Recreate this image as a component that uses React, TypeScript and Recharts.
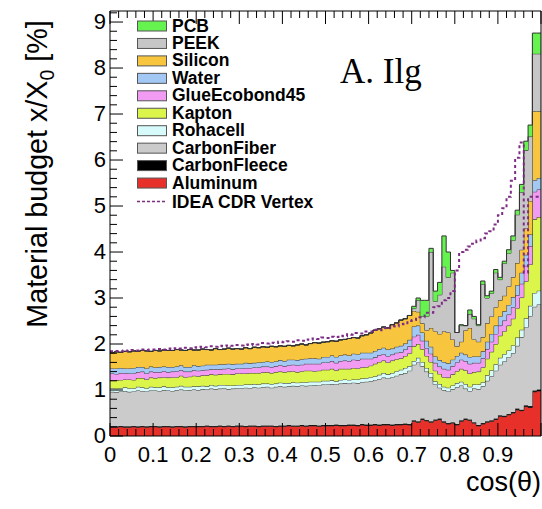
import React from 'react';
import { ComposedChart, Area, Line, XAxis, YAxis } from 'recharts';

// material budget per cos(theta) bin (bin width 0.01, from 0 to 1), in % of X0
const aluminum = [
  0.19, 0.19, 0.2, 0.19, 0.19, 0.2, 0.19, 0.2, 0.19, 0.2,
  0.2, 0.19, 0.2, 0.2, 0.19, 0.2, 0.2, 0.19, 0.2, 0.2,
  0.2, 0.2, 0.21, 0.2, 0.2, 0.21, 0.2, 0.21, 0.2, 0.21,
  0.21, 0.2, 0.21, 0.21, 0.2, 0.21, 0.21, 0.21, 0.2, 0.21,
  0.21, 0.22, 0.21, 0.21, 0.22, 0.21, 0.22, 0.22, 0.21, 0.22,
  0.22, 0.22, 0.23, 0.22, 0.22, 0.23, 0.23, 0.22, 0.24, 0.23,
  0.23, 0.24, 0.23, 0.24, 0.24, 0.23, 0.24, 0.24, 0.25, 0.24,
  0.32, 0.3, 0.36, 0.33, 0.3, 0.34, 0.36, 0.3, 0.26, 0.28,
  0.24, 0.32, 0.36, 0.34, 0.28, 0.22, 0.26, 0.3, 0.32, 0.36,
  0.43, 0.42, 0.46, 0.5, 0.57, 0.55, 0.64, 0.62, 0.96, 0.98,
];
const carbonFleece = [
  0.02, 0.02, 0.02, 0.02, 0.02, 0.02, 0.02, 0.02, 0.02, 0.02,
  0.02, 0.02, 0.02, 0.02, 0.02, 0.02, 0.02, 0.02, 0.02, 0.02,
  0.02, 0.02, 0.02, 0.02, 0.02, 0.02, 0.02, 0.02, 0.02, 0.02,
  0.02, 0.02, 0.02, 0.02, 0.02, 0.02, 0.02, 0.02, 0.02, 0.02,
  0.02, 0.02, 0.02, 0.02, 0.02, 0.02, 0.02, 0.02, 0.02, 0.02,
  0.02, 0.02, 0.02, 0.02, 0.02, 0.02, 0.02, 0.02, 0.02, 0.02,
  0.02, 0.02, 0.02, 0.02, 0.02, 0.02, 0.02, 0.02, 0.02, 0.02,
  0.02, 0.02, 0.02, 0.02, 0.02, 0.02, 0.02, 0.02, 0.02, 0.02,
  0.02, 0.02, 0.02, 0.02, 0.02, 0.02, 0.02, 0.02, 0.02, 0.02,
  0.02, 0.02, 0.02, 0.02, 0.03, 0.02, 0.03, 0.03, 0.03, 0.03,
];
const carbonFiber = [
  0.75, 0.74, 0.75, 0.77, 0.75, 0.75, 0.78, 0.76, 0.76, 0.77,
  0.77, 0.77, 0.78, 0.77, 0.77, 0.78, 0.79, 0.78, 0.78, 0.79,
  0.78, 0.8, 0.78, 0.81, 0.8, 0.8, 0.82, 0.79, 0.81, 0.81,
  0.81, 0.83, 0.81, 0.83, 0.83, 0.83, 0.84, 0.82, 0.85, 0.85,
  0.84, 0.84, 0.86, 0.85, 0.86, 0.86, 0.86, 0.87, 0.87, 0.88,
  0.88, 0.89, 0.87, 0.9, 0.91, 0.89, 0.91, 0.91, 0.91, 0.93,
  0.94, 0.96, 0.99, 1.01, 0.99, 1.03, 1.05, 1.08, 1.1, 1.16,
  1.21, 1.28, 1.14, 1.05, 0.96, 0.76, 0.67, 0.68, 0.69, 0.72,
  0.8, 0.76, 0.65, 0.62, 0.74, 0.78, 0.8, 0.88, 0.96, 1.04,
  1.1, 1.18, 1.24, 1.28, 1.36, 1.58, 1.69, 1.96, 1.82, 1.85,
];
const rohacell = [
  0.08, 0.08, 0.07, 0.08, 0.08, 0.07, 0.08, 0.08, 0.07, 0.08,
  0.07, 0.08, 0.08, 0.07, 0.08, 0.07, 0.08, 0.08, 0.07, 0.07,
  0.08, 0.07, 0.07, 0.08, 0.07, 0.08, 0.07, 0.08, 0.07, 0.07,
  0.07, 0.07, 0.08, 0.07, 0.07, 0.08, 0.07, 0.08, 0.07, 0.08,
  0.08, 0.07, 0.08, 0.08, 0.07, 0.08, 0.08, 0.07, 0.08, 0.08,
  0.08, 0.08, 0.07, 0.08, 0.08, 0.08, 0.07, 0.08, 0.08, 0.08,
  0.09, 0.08, 0.09, 0.1, 0.09, 0.09, 0.1, 0.1, 0.11, 0.1,
  0.08, 0.1, 0.09, 0.08, 0.09, 0.07, 0.08, 0.07, 0.08, 0.08,
  0.09, 0.08, 0.1, 0.09, 0.08, 0.1, 0.09, 0.12, 0.13, 0.14,
  0.15, 0.16, 0.14, 0.17, 0.18, 0.16, 0.2, 0.22, 0.3, 0.3,
];
const kapton = [
  0.17, 0.18, 0.18, 0.17, 0.19, 0.18, 0.19, 0.2, 0.19, 0.2,
  0.2, 0.21, 0.2, 0.21, 0.22, 0.21, 0.22, 0.21, 0.22, 0.23,
  0.22, 0.23, 0.24, 0.23, 0.24, 0.23, 0.24, 0.25, 0.24, 0.25,
  0.25, 0.24, 0.25, 0.24, 0.25, 0.24, 0.25, 0.24, 0.25, 0.24,
  0.24, 0.25, 0.24, 0.23, 0.24, 0.25, 0.24, 0.23, 0.24, 0.24,
  0.24, 0.25, 0.24, 0.24, 0.23, 0.24, 0.25, 0.24, 0.24, 0.24,
  0.25, 0.27, 0.28, 0.27, 0.26, 0.27, 0.26, 0.25, 0.26, 0.28,
  0.32, 0.3, 0.28, 0.26, 0.24, 0.23, 0.22, 0.21, 0.22, 0.24,
  0.26, 0.28, 0.3, 0.29, 0.27, 0.28, 0.32, 0.36, 0.4, 0.44,
  0.48, 0.5, 0.54, 0.58, 0.64, 0.7, 0.8, 0.9, 1.6, 1.6,
];
const glueEcobond45 = [
  0.15, 0.14, 0.15, 0.14, 0.13, 0.14, 0.13, 0.14, 0.13, 0.13,
  0.13, 0.12, 0.13, 0.12, 0.12, 0.13, 0.12, 0.12, 0.11, 0.12,
  0.12, 0.11, 0.12, 0.11, 0.12, 0.11, 0.11, 0.12, 0.11, 0.11,
  0.11, 0.12, 0.11, 0.12, 0.12, 0.13, 0.12, 0.13, 0.13, 0.14,
  0.13, 0.14, 0.14, 0.15, 0.14, 0.15, 0.15, 0.16, 0.15, 0.16,
  0.16, 0.17, 0.16, 0.17, 0.18, 0.17, 0.18, 0.18, 0.19, 0.18,
  0.15, 0.14, 0.15, 0.14, 0.14, 0.13, 0.14, 0.13, 0.14, 0.15,
  0.21, 0.2, 0.18, 0.17, 0.18, 0.17, 0.16, 0.18, 0.17, 0.18,
  0.19, 0.2, 0.2, 0.21, 0.2, 0.19, 0.2, 0.21, 0.22, 0.22,
  0.22, 0.23, 0.24, 0.25, 0.28, 0.3, 0.34, 0.4, 0.6, 0.6,
];
const water = [
  0.11, 0.12, 0.11, 0.1, 0.11, 0.12, 0.11, 0.1, 0.11, 0.11,
  0.1, 0.11, 0.1, 0.11, 0.1, 0.1, 0.11, 0.1, 0.1, 0.11,
  0.1, 0.1, 0.11, 0.1, 0.1, 0.11, 0.1, 0.1, 0.11, 0.1,
  0.1, 0.11, 0.1, 0.1, 0.11, 0.1, 0.11, 0.11, 0.1, 0.11,
  0.11, 0.12, 0.11, 0.11, 0.12, 0.11, 0.12, 0.12, 0.11, 0.12,
  0.12, 0.12, 0.13, 0.12, 0.13, 0.12, 0.13, 0.13, 0.13, 0.13,
  0.13, 0.14, 0.13, 0.14, 0.14, 0.13, 0.13, 0.14, 0.13, 0.14,
  0.22, 0.2, 0.18, 0.16, 0.15, 0.14, 0.14, 0.15, 0.14, 0.14,
  0.14, 0.15, 0.14, 0.15, 0.14, 0.14, 0.15, 0.16, 0.17, 0.18,
  0.2, 0.2, 0.21, 0.22, 0.22, 0.24, 0.24, 0.25, 0.25, 0.25,
];
const silicon = [
  0.34, 0.36, 0.34, 0.37, 0.36, 0.37, 0.34, 0.36, 0.38, 0.33,
  0.37, 0.35, 0.36, 0.36, 0.36, 0.37, 0.33, 0.36, 0.38, 0.33,
  0.35, 0.36, 0.33, 0.32, 0.35, 0.32, 0.33, 0.34, 0.33, 0.33,
  0.32, 0.33, 0.32, 0.34, 0.32, 0.33, 0.31, 0.34, 0.32, 0.31,
  0.32, 0.31, 0.3, 0.33, 0.33, 0.3, 0.32, 0.34, 0.34, 0.32,
  0.33, 0.32, 0.34, 0.34, 0.33, 0.37, 0.35, 0.35, 0.37, 0.39,
  0.43, 0.45, 0.44, 0.45, 0.47, 0.52, 0.52, 0.56, 0.54, 0.53,
  0.34, 0.3, 0.2, 0.23, 0.41, 0.55, 0.57, 0.67, 0.67, 0.44,
  0.21, 0.24, 0.53, 0.63, 0.37, 0.32, 0.31, 0.4, 0.38, 0.4,
  0.35, 0.34, 0.4, 0.43, 0.48, 0.5, 0.57, 0.73, 1.5, 1.45,
];
const peek = [
  0, 0, 0, 0, 0, 0, 0, 0, 0, 0,
  0, 0, 0, 0, 0, 0, 0, 0, 0, 0,
  0, 0, 0, 0, 0, 0, 0, 0, 0, 0,
  0, 0, 0, 0, 0, 0, 0, 0, 0, 0,
  0, 0, 0, 0, 0, 0, 0, 0, 0, 0,
  0, 0, 0, 0, 0, 0, 0, 0, 0, 0,
  0, 0, 0, 0, 0, 0, 0, 0, 0, 0,
  0.05, 0.25, 0.15, 0.3, 1.65, 0.65, 0.85, 1.4, 1.2, 1.45,
  0.3, 0.35, 0.1, 0.3, 0.45, 0.35, 1.15, 0.55, 0.5, 0.75,
  0.45, 0.7, 0.72, 0.8, 1.05, 1.25, 1.7, 1.4, 1.25, 1.25,
];
const pcb = [
  0, 0, 0, 0, 0, 0, 0, 0, 0, 0,
  0, 0, 0, 0, 0, 0, 0, 0, 0, 0,
  0, 0, 0, 0, 0, 0, 0, 0, 0, 0,
  0, 0, 0, 0, 0, 0, 0, 0, 0, 0,
  0, 0, 0, 0, 0, 0, 0, 0, 0, 0,
  0, 0, 0, 0, 0, 0, 0, 0, 0, 0,
  0, 0, 0, 0, 0, 0, 0, 0, 0, 0,
  0.05, 0.05, 0.35, 0.35, 0.08, 0.22, 0.27, 0.67, 0.55, 0.05,
  0, 0.02, 0, 0.09, 0.05, 0.02, 0.07, 0.05, 0.05, 0.07,
  0.05, 0.05, 0.08, 0.1, 0.1, 0.17, 0.2, 0.25, 0.45, 0.45,
];
// total of the IDEA CDR vertex detector, same binning
const ideaVertex = [
  1.84, 1.85, 1.84, 1.86, 1.85, 1.87, 1.86, 1.88, 1.87, 1.88,
  1.88, 1.89, 1.88, 1.9, 1.89, 1.91, 1.9, 1.92, 1.91, 1.93,
  1.92, 1.94, 1.93, 1.95, 1.94, 1.96, 1.95, 1.97, 1.96, 1.98,
  1.97, 1.99, 1.98, 2.0, 1.99, 2.02, 2.01, 2.03, 2.02, 2.05,
  2.04, 2.06, 2.05, 2.08, 2.07, 2.1, 2.09, 2.12, 2.11, 2.14,
  2.13, 2.16, 2.15, 2.18, 2.17, 2.21, 2.2, 2.24, 2.23, 2.27,
  2.27, 2.31, 2.3, 2.35, 2.34, 2.39, 2.38, 2.44, 2.43, 2.5,
  2.52, 2.58, 2.58, 2.68, 2.68, 2.8, 2.82, 2.95, 3.0, 3.15,
  3.6, 4.0, 4.05, 4.12, 4.18, 4.25, 4.3, 4.4, 4.45, 4.6,
  4.8, 4.95, 5.2, 5.55, 6.05, 6.38, 3.55, 5.2, 5.2, 5.2,
];

const BIN_WIDTH = 0.01;
// the label at cos = 1 falls outside the cropped picture
const xMajorTicks = [0, 0.1, 0.2, 0.3, 0.4, 0.5, 0.6, 0.7, 0.8, 0.9, 1];
const xTickLabels = ['0', '0.1', '0.2', '0.3', '0.4', '0.5', '0.6', '0.7', '0.8', '0.9', ''];
const yMajorTicks = [0, 1, 2, 3, 4, 5, 6, 7, 8, 9];
const yTickLabels = ['0', '1', '2', '3', '4', '5', '6', '7', '8', '9'];

// stacked bottom -> top
const layers = [
  { key: 'aluminum', name: 'Aluminum', values: aluminum, color: '#e8302a' },
  { key: 'carbonFleece', name: 'CarbonFleece', values: carbonFleece, color: '#000000' },
  { key: 'carbonFiber', name: 'CarbonFiber', values: carbonFiber, color: '#cbcbcb' },
  { key: 'rohacell', name: 'Rohacell', values: rohacell, color: '#d6fbfa' },
  { key: 'kapton', name: 'Kapton', values: kapton, color: '#dcf54a' },
  { key: 'glue', name: 'GlueEcobond45', values: glueEcobond45, color: '#f19bf2' },
  { key: 'water', name: 'Water', values: water, color: '#a4c8f4' },
  { key: 'silicon', name: 'Silicon', values: silicon, color: '#f8c63e' },
  { key: 'peek', name: 'PEEK', values: peek, color: '#c6c6c6' },
  { key: 'pcb', name: 'PCB', values: pcb, color: '#66f24f' },
];
const IDEA_COLOR = '#7e2d85';

const W = 542;
const H = 509;
const PLOT_LEFT = 110;
const PLOT_RIGHT = 541;
const PLOT_TOP = 11;
const PLOT_BOTTOM = 436;
const Y_MAX = 9.24;
const SANS = "'Liberation Sans', Arial, Helvetica, sans-serif";

// one row per bin low edge, plus a closing point at 1 for the step shape
const data = Array.from({ length: aluminum.length + 1 }, (_, i) => {
  const j = Math.min(i, aluminum.length - 1);
  const row: Record<string, number> = { cos: +(i * BIN_WIDTH).toFixed(2) };
  layers.forEach((l) => {
    row[l.key] = l.values[j];
  });
  row.idea = ideaVertex[j];
  return row;
});

const xTicks = Array.from({ length: 51 }, (_, k) => +(k * 0.02).toFixed(2));
const yTicks = Array.from({ length: 47 }, (_, k) => +(k * 0.2).toFixed(1)).filter((v) => v <= Y_MAX);

const xMajorIndex = (v: number) => xMajorTicks.findIndex((t) => Math.abs(t - v) < 1e-6);
const yMajorIndex = (v: number) => yMajorTicks.findIndex((t) => Math.abs(t - v) < 1e-6);

function BottomTick(props: any) {
  const { x, payload } = props;
  const idx = xMajorIndex(payload.value);
  return (
    <g>
      <line x1={x} x2={x} y1={PLOT_BOTTOM} y2={PLOT_BOTTOM - (idx >= 0 ? 13 : 7)} stroke="#000" strokeWidth={1} />
      {idx >= 0 && xTickLabels[idx] !== '' && (
        <text x={x} y={PLOT_BOTTOM + 26} textAnchor="middle" fontSize={22} fontFamily={SANS} fill="#000">
          {xTickLabels[idx]}
        </text>
      )}
    </g>
  );
}

function TopTick(props: any) {
  const { x, payload } = props;
  const idx = xMajorIndex(payload.value);
  return <line x1={x} x2={x} y1={PLOT_TOP} y2={PLOT_TOP + (idx >= 0 ? 13 : 7)} stroke="#000" strokeWidth={1} />;
}

function LeftTick(props: any) {
  const { y, payload } = props;
  const idx = yMajorIndex(payload.value);
  return (
    <g>
      <line x1={PLOT_LEFT} x2={PLOT_LEFT + (idx >= 0 ? 13 : 7)} y1={y} y2={y} stroke="#000" strokeWidth={1} />
      {idx >= 0 && (
        <text x={106} y={y + 7} textAnchor="end" fontSize={22} fontFamily={SANS} fill="#000">
          {yTickLabels[idx]}
        </text>
      )}
    </g>
  );
}

function RightTick(props: any) {
  const { y, payload } = props;
  const idx = yMajorIndex(payload.value);
  return <line x1={PLOT_RIGHT} x2={PLOT_RIGHT - (idx >= 0 ? 13 : 7)} y1={y} y2={y} stroke="#000" strokeWidth={1} />;
}

function Overlay() {
  const legendRows = [...layers].reverse();
  return (
    <svg width={W} height={H} style={{ position: 'absolute', left: 0, top: 0, pointerEvents: 'none' }}>
      {legendRows.map((l, i) => {
        const top = 21 + i * 17.45;
        return (
          <g key={l.key}>
            <rect x={137.5} y={top} width={29} height={10} fill={l.color} stroke="#555" strokeWidth={1} />
            <text x={172} y={top + 10.5} fontSize={17.5} fontWeight="bold" fontFamily={SANS} fill="#000">
              {l.name}
            </text>
          </g>
        );
      })}
      <line x1={137} x2={166} y1={201.5} y2={201.5} stroke={IDEA_COLOR} strokeWidth={1.5} strokeDasharray="3 2" />
      <text x={172} y={208} fontSize={17.5} fontWeight="bold" fontFamily={SANS} fill="#000">
        IDEA CDR Vertex
      </text>
      <text x={340} y={83} fontSize={35} fontFamily="'Liberation Serif', 'Times New Roman', serif" fill="#000">
        A. Ilg
      </text>
      <text transform="translate(47,174) rotate(-90)" textAnchor="middle" fontSize={28.7} fontFamily={SANS} fill="#000">
        Material budget x/X<tspan dy={7} fontSize={19.5}>0</tspan>
        <tspan dy={-7}> [%]</tspan>
      </text>
      <text x={541} y={491} textAnchor="end" fontSize={27} fontFamily={SANS} fill="#000">
        cos(θ)
      </text>
    </svg>
  );
}

export default function App() {
  return (
    <div style={{ position: 'absolute', left: 0, top: 0, width: W, height: H, background: '#fff' }}>
      <ComposedChart width={W} height={H} data={data} margin={{ top: 0, right: 0, bottom: 0, left: 0 }}>
        {layers.map((l) => (
          <Area
            key={l.key}
            xAxisId="b"
            yAxisId="l"
            dataKey={l.key}
            name={l.name}
            stackId="material"
            type="stepAfter"
            fill={l.color}
            fillOpacity={1}
            stroke="#333"
            strokeWidth={1}
            dot={false}
            activeDot={false}
            isAnimationActive={false}
          />
        ))}
        <Line
          xAxisId="b"
          yAxisId="l"
          dataKey="idea"
          name="IDEA CDR Vertex"
          type="stepAfter"
          stroke={IDEA_COLOR}
          strokeWidth={2}
          strokeDasharray="3 3"
          dot={false}
          activeDot={false}
          isAnimationActive={false}
        />
        <XAxis
          xAxisId="b"
          dataKey="cos"
          type="number"
          domain={[0, 1]}
          ticks={xTicks}
          interval={0}
          height={H - PLOT_BOTTOM}
          tickLine={false}
          tickSize={0}
          tickMargin={0}
          axisLine={{ stroke: '#000' }}
          tick={(p: any) => <BottomTick {...p} />}
        />
        <XAxis
          xAxisId="t"
          orientation="top"
          dataKey="cos"
          type="number"
          domain={[0, 1]}
          ticks={xTicks}
          interval={0}
          height={PLOT_TOP}
          tickLine={false}
          tickSize={0}
          tickMargin={0}
          axisLine={{ stroke: '#000' }}
          tick={(p: any) => <TopTick {...p} />}
        />
        <YAxis
          yAxisId="l"
          type="number"
          domain={[0, Y_MAX]}
          ticks={yTicks}
          interval={0}
          width={PLOT_LEFT}
          tickLine={false}
          tickSize={0}
          tickMargin={0}
          axisLine={{ stroke: '#000' }}
          tick={(p: any) => <LeftTick {...p} />}
        />
        <YAxis
          yAxisId="r"
          orientation="right"
          type="number"
          domain={[0, Y_MAX]}
          ticks={yTicks}
          interval={0}
          width={W - PLOT_RIGHT}
          tickLine={false}
          tickSize={0}
          tickMargin={0}
          axisLine={{ stroke: '#000' }}
          tick={(p: any) => <RightTick {...p} />}
        />
      </ComposedChart>
      <Overlay />
    </div>
  );
}
